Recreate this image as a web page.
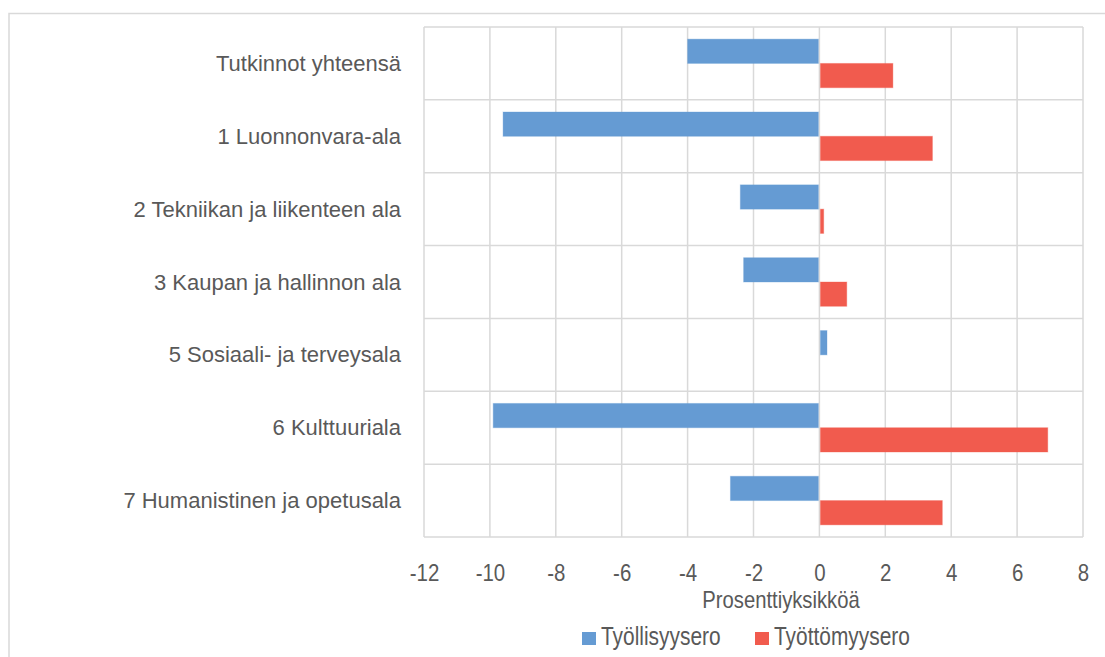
<!DOCTYPE html>
<html>
<head>
<meta charset="utf-8">
<script src="https://cdn.jsdelivr.net/npm/d3@7"></script>
<style>
  body { margin: 0; background: #fff; }
  text { fill: #595959; font-family: "Liberation Sans", Arial, sans-serif; }
</style>
</head>
<body>
<div id="chart"></div>
<script>
const categories = [
  "Tutkinnot yhteensä",
  "1 Luonnonvara-ala",
  "2 Tekniikan ja liikenteen ala",
  "3 Kaupan ja hallinnon ala",
  "5 Sosiaali- ja terveysala",
  "6 Kulttuuriala",
  "7 Humanistinen ja opetusala",
];
const seriesNames = ["Työllisyysero", "Työttömyysero"];
const tyollisyysero = [-4.0, -9.6, -2.4, -2.3, 0.2, -9.9, -2.7];
const tyottomyysero = [2.2, 3.4, 0.1, 0.8, 0.0, 6.9, 3.7];
const xTicks = [-12, -10, -8, -6, -4, -2, 0, 2, 4, 6, 8];
const colors = ["#659BD3", "#F15B4E"];

const width = 1105;
const height = 657;
const margin = { left: 424, right: 22, top: 27, bottom: 120 };
const squeeze = 0.82; // narrow look of the axis / legend text

const svg = d3
  .select("#chart")
  .append("svg")
  .attr("width", width)
  .attr("height", height);

// outer chart border
svg
  .append("rect")
  .attr("x", 9)
  .attr("y", 13.5)
  .attr("width", width + 20)
  .attr("height", height + 20)
  .attr("fill", "none")
  .attr("stroke", "#D9D9D9")
  .attr("stroke-width", 1.5);

const x = d3
  .scaleLinear()
  .domain([-12, 8])
  .range([margin.left, width - margin.right]);

const y = d3
  .scaleBand()
  .domain(categories)
  .range([margin.top, height - margin.bottom]);

const inner = d3
  .scaleBand()
  .domain(seriesNames)
  .range([0, y.bandwidth()])
  .paddingOuter(0.5);

// vertical gridlines
svg
  .append("g")
  .selectAll("line")
  .data(xTicks)
  .enter()
  .append("line")
  .attr("x1", (d) => x(d))
  .attr("x2", (d) => x(d))
  .attr("y1", y.range()[0])
  .attr("y2", y.range()[1])
  .attr("stroke", "#D9D9D9")
  .attr("stroke-width", 1.5);

// horizontal gridlines (category boundaries)
const bounds = categories.map((c) => y(c)).concat([y.range()[1]]);
svg
  .append("g")
  .selectAll("line")
  .data(bounds)
  .enter()
  .append("line")
  .attr("x1", x.range()[0])
  .attr("x2", x.range()[1])
  .attr("y1", (d) => d)
  .attr("y2", (d) => d)
  .attr("stroke", "#D9D9D9")
  .attr("stroke-width", 1.5);

const series = [tyollisyysero, tyottomyysero];
series.forEach((vals, s) => {
  svg
    .append("g")
    .selectAll("rect")
    .data(vals)
    .enter()
    .append("rect")
    .attr("x", (d) => (d < 0 ? x(d) : x(0) + 1))
    .attr("width", (d) => Math.max(0, Math.abs(x(d) - x(0)) - (d < 0 ? 1 : 0)))
    .attr("y", (d, i) => y(categories[i]) + inner(seriesNames[s]))
    .attr("height", inner.bandwidth())
    .attr("fill", colors[s])
    .attr("stroke", (d) => (d === 0 ? "none" : colors[s]))
    .attr("stroke-opacity", 0.35)
    .attr("stroke-width", 1);
});

// category labels
svg
  .append("g")
  .selectAll("text")
  .data(categories)
  .enter()
  .append("text")
  .attr("x", 401)
  .attr("y", (d) => y(d) + y.bandwidth() / 2 + 7.5)
  .attr("text-anchor", "end")
  .attr("font-size", 22)
  .text((d) => d);

// x axis tick labels
const xAxis = d3
  .axisBottom(x)
  .tickValues(xTicks)
  .tickSize(0)
  .tickPadding(0)
  .tickFormat((d) => (d < 0 ? "-" + Math.abs(d) : String(d)));
const gx = svg
  .append("g")
  .attr("transform", `translate(0,${y.range()[1]})`)
  .call(xAxis);
gx.select(".domain").remove();
gx.attr("font-family", null).attr("font-size", null);
gx.selectAll("text")
  .attr("font-size", 23.5)
  .attr("dy", null)
  .attr("y", 581 - y.range()[1])
  .attr("transform", `scale(0.87,1)`)
  .attr("fill", "#595959");

// axis title
svg
  .append("text")
  .attr("transform", `translate(781,608) scale(0.88,1)`)
  .attr("text-anchor", "middle")
  .attr("font-size", 23)
  .text("Prosenttiyksikköä");

// legend
const legend = svg.append("g");
const legendItems = [
  { name: seriesNames[0], color: colors[0], x: 582 },
  { name: seriesNames[1], color: colors[1], x: 755 },
];
legendItems.forEach((d) => {
  legend
    .append("rect")
    .attr("x", d.x)
    .attr("y", 632)
    .attr("width", 14)
    .attr("height", 13)
    .attr("fill", d.color);
  legend
    .append("text")
    .attr("transform", `translate(${d.x + 19},645) scale(${squeeze},1)`)
    .attr("font-size", 25.5)
    .text(d.name);
});
</script>
</body>
</html>
